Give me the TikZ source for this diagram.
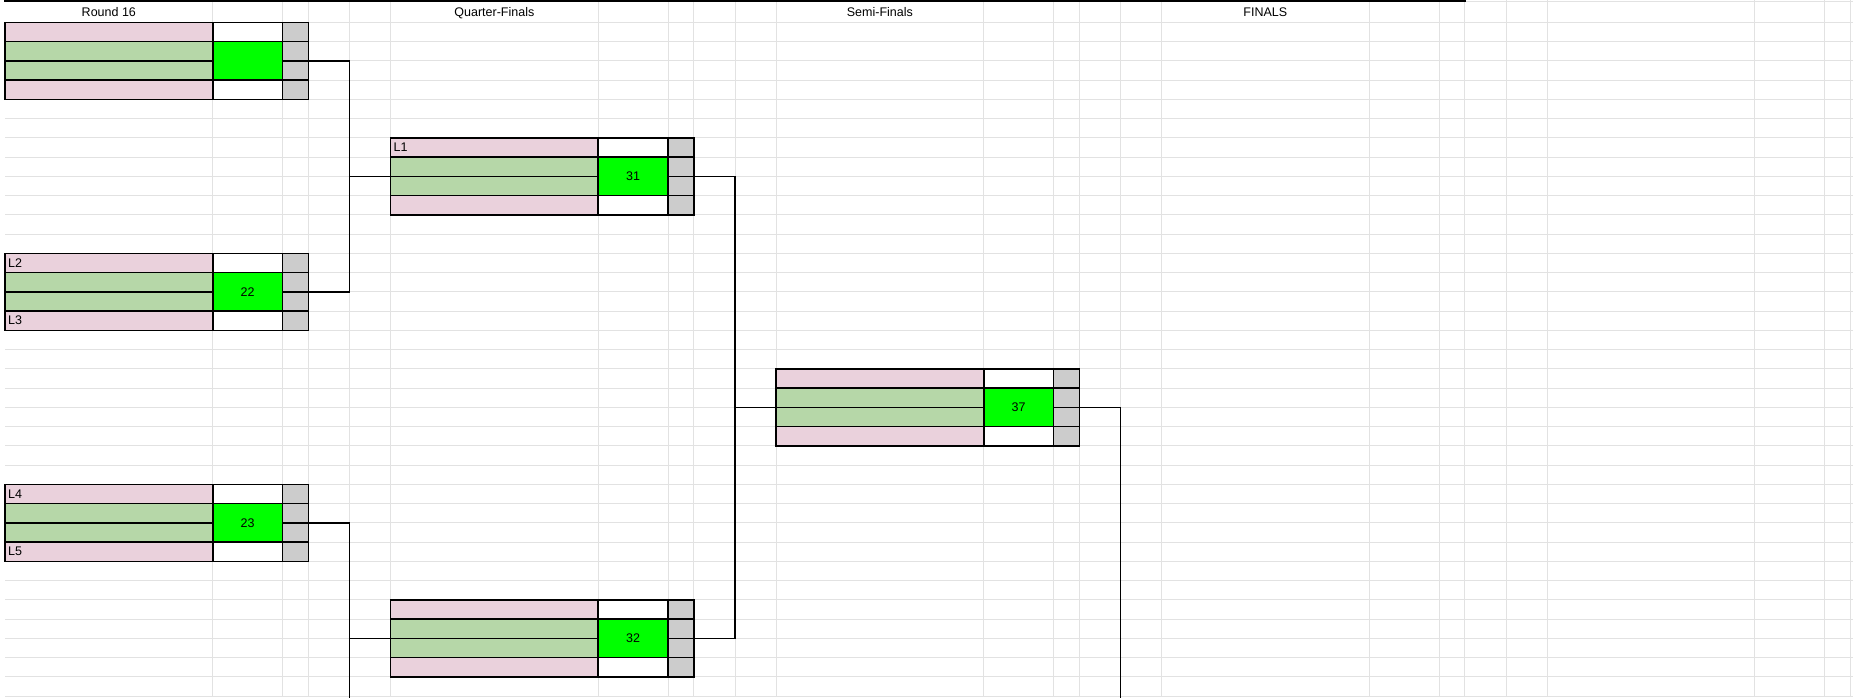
\documentclass[tikz,border=0pt]{standalone}
\usepackage{fontspec}
\setmainfont{Liberation Sans}
\usetikzlibrary{positioning}

\definecolor{seedpink}{HTML}{EAD1DC}
\definecolor{teamgreen}{HTML}{B6D7A8}
\definecolor{scoregreen}{HTML}{00FF00}
\definecolor{sidegrey}{HTML}{CCCCCC}
\definecolor{gridgrey}{HTML}{E2E2E2}

% one match: name, left, top, upper tag, lower tag, match no.
\newcommand{\matchbox}[6]{%
  \node[seedrow,anchor=north west] (#1-t) at (#2,#3) {};
  \node[teamrow,below=0pt of #1-t] (#1-a) {};
  \node[teamrow,below=0pt of #1-a] (#1-b) {};
  \node[seedrow,below=0pt of #1-b] (#1-d) {};
  \node[blankcell,right=0pt of #1-t] (#1-ts) {};
  \node[scorecell,below=0pt of #1-ts] (#1-s) {#6};
  \node[blankcell,below=0pt of #1-s] (#1-ds) {};
  \node[sidecell,right=0pt of #1-ts] (#1-g1) {};
  \node[sidecell,below=0pt of #1-g1] (#1-g2) {};
  \node[sidecell,below=0pt of #1-g2] (#1-g3) {};
  \node[sidecell,below=0pt of #1-g3] (#1-g4) {};
  \node[tag] (#1-tt) at ([xshift=3pt]#1-t.west) {#4};
  \node[tag] (#1-dt) at ([xshift=3pt]#1-d.west) {#5};
  \coordinate (#1-in) at (#1-a.south west);
  \coordinate (#1-out) at (#1-g2.south east);
}

\begin{document}
\begin{tikzpicture}[x=1pt,y=-1pt,
    cell/.style={draw=black,line width=1.6pt,inner sep=0pt,outer sep=0pt,minimum height=19.25pt,font=\fontsize{12.5}{15}\selectfont},
    seedrow/.style={cell,fill=seedpink,minimum width=207.7pt},
    teamrow/.style={cell,fill=teamgreen,minimum width=207.7pt},
    blankcell/.style={cell,fill=white,minimum width=69.8pt},
    scorecell/.style={cell,fill=scoregreen,minimum width=69.8pt,minimum height=38.5pt},
    sidecell/.style={cell,fill=sidegrey,minimum width=25.8pt},
    tag/.style={anchor=west,inner sep=0pt,font=\fontsize{12.5}{15}\selectfont},
    heading/.style={anchor=base,inner sep=0pt,font=\fontsize{12.5}{15}\selectfont},
    gridline/.style={draw=gridgrey,line width=1pt},
    link/.style={draw=black,line width=1.4pt}]

  \useasboundingbox (0,0) rectangle (1853,697);
  \clip (0,0) rectangle (1853,697);
  \fill[white] (0,0) rectangle (1853,697);

  % sheet grid
  \foreach \gy in {0,...,35}
    \draw[gridline] (5,{22.3+19.25*\gy}) -- (1853,{22.3+19.25*\gy});
  \foreach \gx in {212.7,282.5,308.3,349.5,390.5,598.2,668,693.8,735,776,983.7,1053.5,1079.3,1120.5,1161.5,1369.2,1439,1464.8,1506,1547,1754.7,1824.5,1850.3}
    \draw[gridline] (\gx,0) -- (\gx,697);
  \draw[gridline] (5,1.5) -- (1853,1.5);
  \draw[line width=2pt] (5,-4) -- (5,1) -- (1464.8,1) -- (1464.8,-4);

  \node[heading] (r16) at (108.85,16.7) {Round 16};
  \node[heading] (qf) at (494.35,16.7) {Quarter-Finals};
  \node[heading] (sf) at (879.85,16.7) {Semi-Finals};
  \node[heading] (fin) at (1265.35,16.7) {FINALS};

  \matchbox{m21}{5}{22.3}{}{}{}
  \matchbox{m22}{5}{253.3}{L2}{L3}{22}
  \matchbox{m23}{5}{484.3}{L4}{L5}{23}
  \matchbox{m31}{390.5}{137.8}{L1}{}{31}
  \matchbox{m32}{390.5}{599.8}{}{}{32}
  \matchbox{m37}{776}{368.8}{}{}{37}

  \coordinate (j31) at ([xshift=-41pt]m31-in);
  \coordinate (j32) at ([xshift=-41pt]m32-in);
  \coordinate (j37) at ([xshift=-41pt]m37-in);
  \coordinate (down32) at (349.5,710);
  \coordinate (down37) at (1120.5,710);

  \draw[link] (m21-out) -| (j31) |- (m22-out);
  \draw[link] (j31) -- (m31-in);
  \draw[link] (m23-out) -| (down32);
  \draw[link] (j32) -- (m32-in);
  \draw[link] (m31-out) -| (j37) |- (m32-out);
  \draw[link] (j37) -- (m37-in);
  \draw[link] (m37-out) -| (down37);
\end{tikzpicture}
\end{document}
